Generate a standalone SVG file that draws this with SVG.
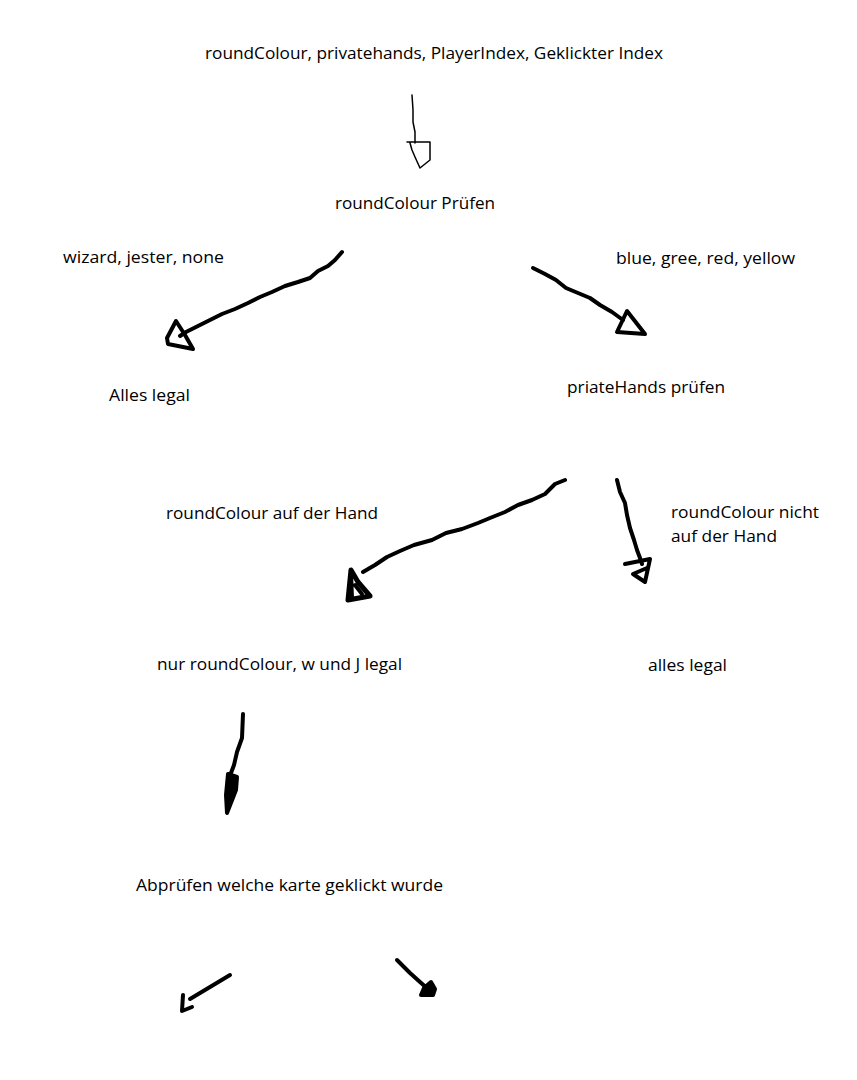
<svg xmlns="http://www.w3.org/2000/svg" width="857" height="1080" viewBox="0 0 857 1080">
<style>
text{font-family:"Open Sans","Liberation Sans",sans-serif;font-size:16.5px;fill:#000}
.s{fill:none;stroke:#000;stroke-width:4;stroke-linecap:round;stroke-linejoin:round}
.t{fill:none;stroke:#000;stroke-width:1.5;stroke-linecap:round;stroke-linejoin:round}
.f{fill:#000;stroke:#000;stroke-width:4;stroke-linejoin:round}
</style>
<rect width="857" height="1080" fill="#fff"/>
<g id="n1"><text x="205" y="59" textLength="458" lengthAdjust="spacingAndGlyphs">roundColour, privatehands, PlayerIndex, Geklickter Index</text></g>
<g id="n2"><text x="335" y="209" textLength="160" lengthAdjust="spacingAndGlyphs">roundColour Prüfen</text></g>
<g id="n3"><text x="63" y="263" textLength="161" lengthAdjust="spacingAndGlyphs">wizard, jester, none</text></g>
<g id="n4"><text x="616" y="264" textLength="179" lengthAdjust="spacingAndGlyphs">blue, gree, red, yellow</text></g>
<g id="n5"><text x="109" y="401" textLength="81" lengthAdjust="spacingAndGlyphs">Alles legal</text></g>
<g id="n6"><text x="567" y="393" textLength="158" lengthAdjust="spacingAndGlyphs">priateHands prüfen</text></g>
<g id="n7"><text x="166" y="519" textLength="212" lengthAdjust="spacingAndGlyphs">roundColour auf der Hand</text></g>
<g id="n8"><text x="671" y="518" textLength="148" lengthAdjust="spacingAndGlyphs">roundColour nicht</text><text x="671" y="542" textLength="106" lengthAdjust="spacingAndGlyphs">auf der Hand</text></g>
<g id="n9"><text x="157" y="670" textLength="245" lengthAdjust="spacingAndGlyphs">nur roundColour, w und J legal</text></g>
<g id="n10"><text x="648" y="671" textLength="79" lengthAdjust="spacingAndGlyphs">alles legal</text></g>
<g id="n11"><text x="136" y="891" textLength="307" lengthAdjust="spacingAndGlyphs">Abprüfen welche karte geklickt wurde</text></g>
<g id="connectors">
<path class="t" d="M412,95 L413,110 L413,122 L415,132 L415,143"/>
<path class="t" d="M407,142 L430,142 L430,160 L420,168 L415,157 L412,150 L410,143"/>
<path class="s" d="M342,252 L335,260 L328,266 L318,271 L310,278 L298,282 L285,286 L272,292 L260,297 L248,303 L235,309 L222,314 L210,320 L198,326 L186,332 L180,336"/>
<path class="s" d="M176,321 L167,338 L168,344 L193,349 L185,335 Z"/>
<path class="s" d="M533,268 L545,274 L556,280 L566,288 L578,293 L590,298 L600,305 L612,312 L623,320"/>
<path class="s" d="M627,311 L617,332 L645,334 Z"/>
<path class="s" d="M565,480 L555,484 L545,494 L532,500 L518,505 L505,512 L490,518 L478,523 L462,529 L446,533 L432,540 L414,545 L400,551 L387,557 L375,565 L363,572"/>
<path class="s" style="stroke-width:5" d="M351,570 L348,600 L370,596 L358,582 Z"/>
<path class="s" d="M351,572 L352,598 M355,585 L362,594"/>
<path class="s" d="M617,480 L620,492 L625,503 L627,515 L630,528 L634,540 L637,550 L640,558 L642,564"/>
<path class="s" d="M625,564 L650,559 L645,582 L633,574 L647,568"/>
<path class="s" d="M243,714 L242,738 L237,752 L234,765 L231,773"/>
<path class="f" d="M228,774 L237,777 L236,790 L227,813 L226,795 Z"/>
<path class="s" d="M230,975 L190,999"/>
<path class="s" d="M183,995 L182,1011 L192,1007"/>
<path class="s" d="M397,960 L410,973 L420,982 L428,989"/>
<path class="f" d="M431,982 L435,989 L433,995 L421,995 L424,988 Z"/>
</g>
</svg>
